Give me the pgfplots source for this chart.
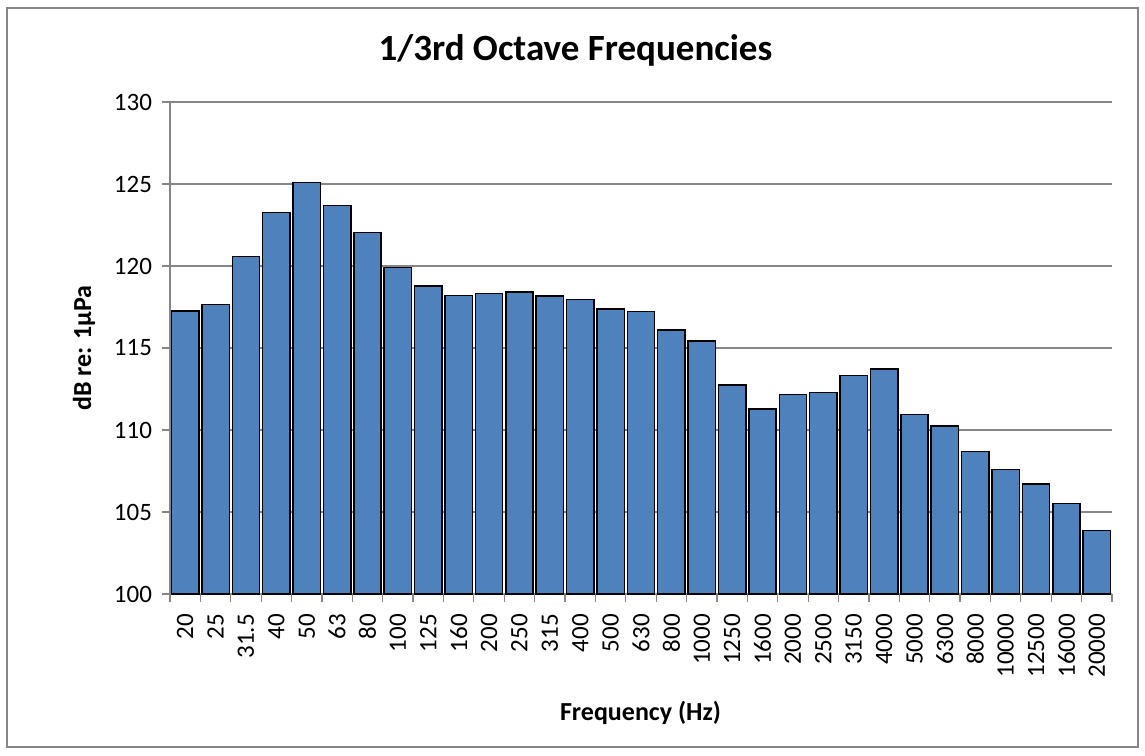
\documentclass[border=0pt]{standalone}
\usepackage{fontspec}
\setmainfont{Carlito}
\usepackage{pgfplots}
\pgfplotsset{compat=1.18}
\definecolor{barblue}{HTML}{4F81BD}
\definecolor{gridgray}{HTML}{868686}

\begin{document}
\begin{tikzpicture}
\path[use as bounding box] (-85pt,-80.5pt) rectangle (487.5pt,297pt);
\draw[gridgray, line width=0.7pt] (-81.5pt,-76.5pt) rectangle (484pt,293pt);
\begin{axis}[
  at={(0pt,0pt)}, anchor=south west,
  scale only axis,
  width=471pt, height=246pt,
  ybar, bar width=0.9,
  xmin=-0.5, xmax=30.5,
  ymin=100, ymax=130,
  ytick={100,105,...,130},
  xtick={0,...,30},
  xticklabels={20,25,31.5,40,50,63,80,100,125,160,200,250,315,400,500,630,800,
    1000,1250,1600,2000,2500,3150,4000,5000,6300,8000,10000,12500,16000,20000},
  minor xtick={-0.5,0.5,...,30.5},
  major x tick style={draw=none},
  tick align=outside,
  major tick length=4pt, minor tick length=4pt,
  tick style={gridgray, line width=0.6pt},
  axis x line*=bottom, axis y line*=left,
  axis line style={gridgray, line width=0.7pt, -},
  ymajorgrids,
  grid style={gridgray, line width=0.7pt},
  /pgf/number format/assume math mode=true,
  tick label style={font=\fontsize{12.5}{14}\selectfont, black},
  yticklabel style={xshift=-1.5pt},
  xticklabel style={rotate=90, anchor=east, xshift=-2.5pt},
  title={1/3rd Octave Frequencies},
  title style={at={(0.4305,1.080)}, anchor=center, font=\bfseries\fontsize{18.5}{22}\selectfont},
  xlabel={Frequency (Hz)},
  xlabel style={at={(0.4995,-0.2419)}, anchor=center, font=\bfseries\fontsize{13}{15}\selectfont},
  ylabel={dB re: 1μPa},
  ylabel style={at={(-0.0913,0.5)}, anchor=center, font=\bfseries\fontsize{13}{15}\selectfont},
  clip=true,
]
\addplot[fill=barblue, draw=black, line width=0.75pt] coordinates {
  (0,117.27) (1,117.66) (2,120.57) (3,123.27) (4,125.08) (5,123.68)
  (6,122.05) (7,119.92) (8,118.78) (9,118.19) (10,118.31) (11,118.41)
  (12,118.17) (13,117.97) (14,117.38) (15,117.22) (16,116.1) (17,115.43)
  (18,112.74) (19,111.28) (20,112.17) (21,112.3) (22,113.31) (23,113.72)
  (24,110.96) (25,110.23) (26,108.7) (27,107.6) (28,106.71) (29,105.53)
  (30,103.86)
};
\end{axis}
\end{tikzpicture}
\end{document}
